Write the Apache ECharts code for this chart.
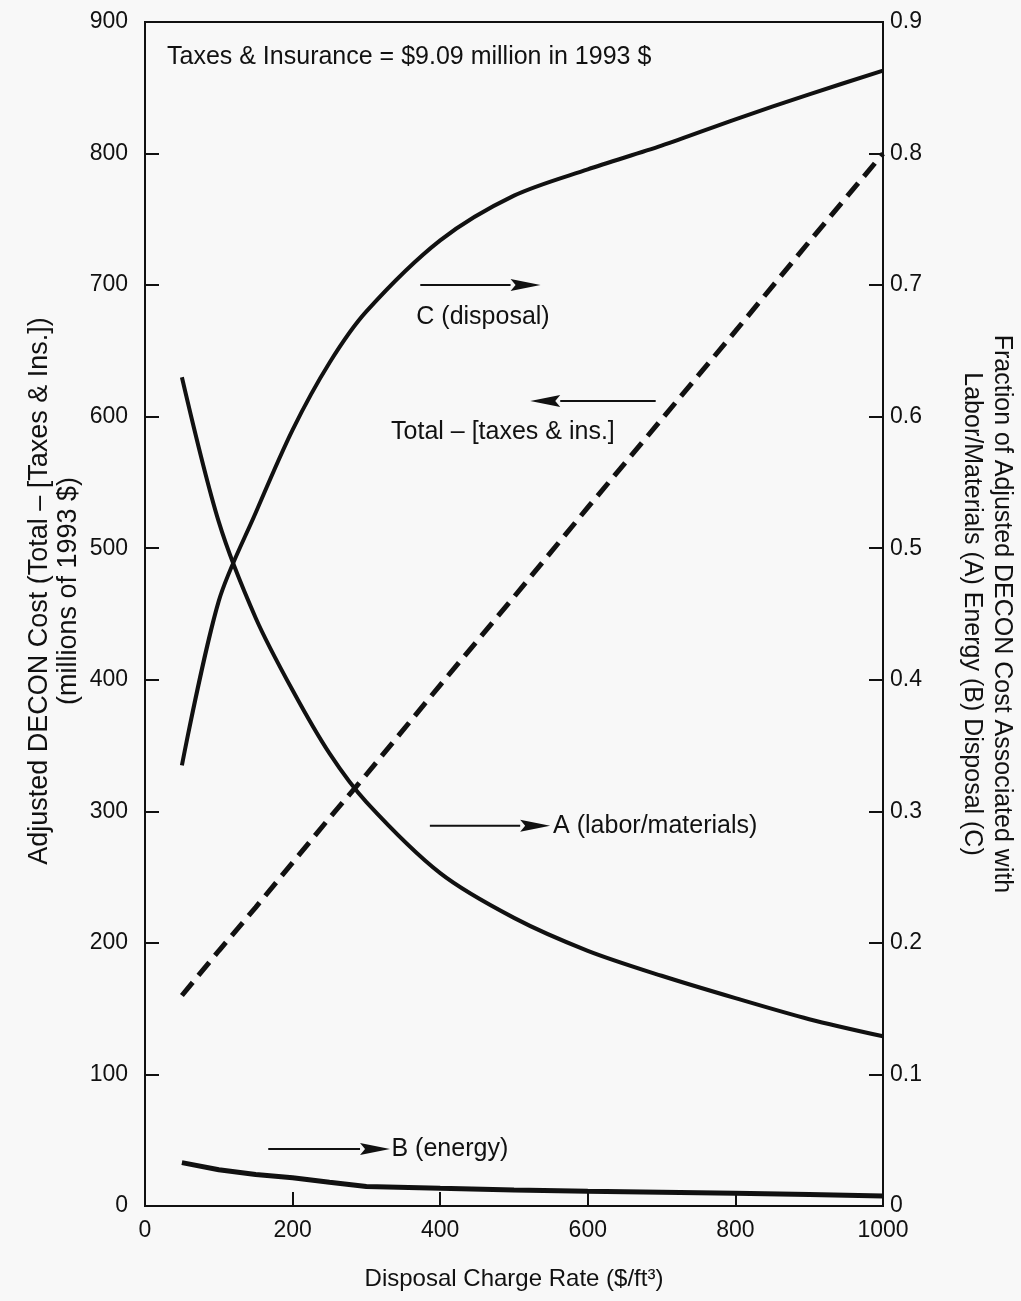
<!DOCTYPE html>
<html>
<head>
<meta charset="utf-8">
<script src="https://cdn.jsdelivr.net/npm/echarts@6/dist/echarts.min.js"></script>
<style>
  html, body { margin: 0; background: #f8f8f8; }
  #chart { width: 1021px; height: 1301px; }
</style>
</head>
<body>
<div id="chart"></div>
<script>
// disposal charge rate ($/ft3)
const rates = [50, 100, 150, 200, 250, 300, 400, 500, 600, 700, 800, 900, 1000];
// left axis: adjusted DECON cost, millions of 1993 $
const totalCost = [160, 194, 227, 261, 295, 328, 396, 463, 531, 598, 665, 733, 800];
// right axis: fractions
const laborFrac = [0.630, 0.520, 0.447, 0.392, 0.344, 0.307, 0.253, 0.219, 0.194, 0.175, 0.158, 0.142, 0.129];
const energyFrac = [0.033, 0.0275, 0.024, 0.0215, 0.018, 0.0148, 0.0134, 0.0122, 0.0112, 0.0104, 0.0096, 0.0087, 0.0076];
const disposalFrac = [0.335, 0.460, 0.527, 0.590, 0.641, 0.680, 0.734, 0.768, 0.788, 0.806, 0.826, 0.845, 0.863];

const FONT = '"Liberation Sans", Arial, Helvetica, sans-serif';
const INK = '#111';

const pairs = arr => rates.map((r, i) => [r, arr[i]]);

const chart = echarts.init(document.getElementById('chart'));

const axisCommon = {
  axisLine: { show: true, lineStyle: { color: INK, width: 2 } },
  axisTick: { show: true, inside: true, length: 14, lineStyle: { color: INK, width: 2 } },
  splitLine: { show: false },
  axisLabel: { color: INK, fontSize: 23, fontFamily: FONT },
  nameTextStyle: { color: INK, fontSize: 24, fontFamily: FONT, lineHeight: 30 }
};

chart.setOption({
  backgroundColor: '#f8f8f8',
  animation: false,
  title: {
    text: 'Taxes & Insurance = $9.09 million in 1993 $',
    left: 162,
    top: 40,
    textStyle: { color: INK, fontSize: 25, fontWeight: 'normal', fontFamily: FONT }
  },
  grid: {
    left: 145, right: 138, top: 22, bottom: 95,
    outerBoundsMode: 'none',
    show: true, borderColor: INK, borderWidth: 2, backgroundColor: 'transparent'
  },
  xAxis: Object.assign({}, axisCommon, {
    type: 'value',
    min: 0, max: 1000, interval: 200,
    name: 'Disposal Charge Rate ($/ft³)',
    nameLocation: 'middle',
    nameGap: 58,
    axisLabel: Object.assign({}, axisCommon.axisLabel, {
      margin: 13,
      formatter: v => String(v)
    })
  }),
  yAxis: [
    Object.assign({}, axisCommon, {
      type: 'value',
      min: 0, max: 900, interval: 100,
      name: 'Adjusted DECON Cost (Total – [Taxes & Ins.])\n(millions of 1993 $)',
      nameLocation: 'middle',
      nameGap: 62,
      nameMoveOverlap: false,
      nameTextStyle: Object.assign({}, axisCommon.nameTextStyle, {
        fontSize: 27, lineHeight: 29, padding: [0, 0, 0, 46]
      }),
      axisLabel: Object.assign({}, axisCommon.axisLabel, { margin: 17 })
    }),
    Object.assign({}, axisCommon, {
      type: 'value',
      position: 'right',
      min: 0, max: 0.9, interval: 0.1,
      name: 'Fraction of Adjusted DECON Cost Associated with\nLabor/Materials (A) Energy (B) Disposal (C)',
      nameLocation: 'middle',
      nameRotate: -90,
      nameGap: 74,
      nameTextStyle: Object.assign({}, axisCommon.nameTextStyle, { fontSize: 25, lineHeight: 30 }),
      axisLabel: Object.assign({}, axisCommon.axisLabel, {
        margin: 7,
        formatter: v => (v === 0 ? '0' : v.toFixed(1))
      })
    })
  ],
  series: [
    {
      name: 'Total – [taxes & ins.]',
      type: 'line', yAxisIndex: 0,
      data: pairs(totalCost),
      showSymbol: false,
      lineStyle: { color: INK, width: 5, type: [17, 9] }
    },
    {
      name: 'A (labor/materials)',
      type: 'line', yAxisIndex: 1,
      data: pairs(laborFrac),
      showSymbol: false, smooth: 0.3,
      lineStyle: { color: INK, width: 4 }
    },
    {
      name: 'B (energy)',
      type: 'line', yAxisIndex: 1,
      data: pairs(energyFrac),
      showSymbol: false,
      lineStyle: { color: INK, width: 5 }
    },
    {
      name: 'C (disposal)',
      type: 'line', yAxisIndex: 1,
      data: pairs(disposalFrac),
      showSymbol: false, smooth: 0.3,
      lineStyle: { color: INK, width: 4 }
    }
  ]
});

// callout arrows and labels, placed in data coordinates
const arrows = [
  { axis: 1, from: [373, 0.700], to: [536, 0.700] },
  { axis: 0, from: [692, 612], to: [522, 612] },
  { axis: 1, from: [386, 0.289], to: [549, 0.289] },
  { axis: 1, from: [167, 0.0433], to: [332, 0.0433] }
];
const labels = [
  { axis: 1, at: [458, 0.676], text: 'C (disposal)', align: 'center' },
  { axis: 0, at: [485, 588], text: 'Total – [taxes & ins.]', align: 'center' },
  { axis: 1, at: [553, 0.289], text: 'A (labor/materials)', align: 'left' },
  { axis: 1, at: [334, 0.0433], text: 'B (energy)', align: 'left' }
];

const toPx = (axis, p) => chart.convertToPixel({ xAxisIndex: 0, yAxisIndex: axis }, p);
const graphics = [];
arrows.forEach(a => {
  const p1 = toPx(a.axis, a.from);
  const p2 = toPx(a.axis, a.to);
  const dir = p2[0] > p1[0] ? 1 : -1;
  const headLen = 30;
  const base = p2[0] - dir * headLen;
  graphics.push({
    type: 'line', silent: true,
    shape: { x1: p1[0], y1: p1[1], x2: base, y2: p2[1] },
    style: { stroke: INK, lineWidth: 2 }
  });
  graphics.push({
    type: 'polygon', silent: true,
    shape: { points: [[p2[0], p2[1]], [base, p2[1] - 6], [base + dir * 5, p2[1]], [base, p2[1] + 6]] },
    style: { fill: INK }
  });
});
labels.forEach(l => {
  const p = toPx(l.axis, l.at);
  graphics.push({
    type: 'text', silent: true,
    x: p[0], y: p[1],
    style: {
      text: l.text, fill: INK, font: '25px ' + FONT,
      align: l.align, verticalAlign: 'middle'
    }
  });
});
chart.setOption({ graphic: graphics });
</script>
</body>
</html>
